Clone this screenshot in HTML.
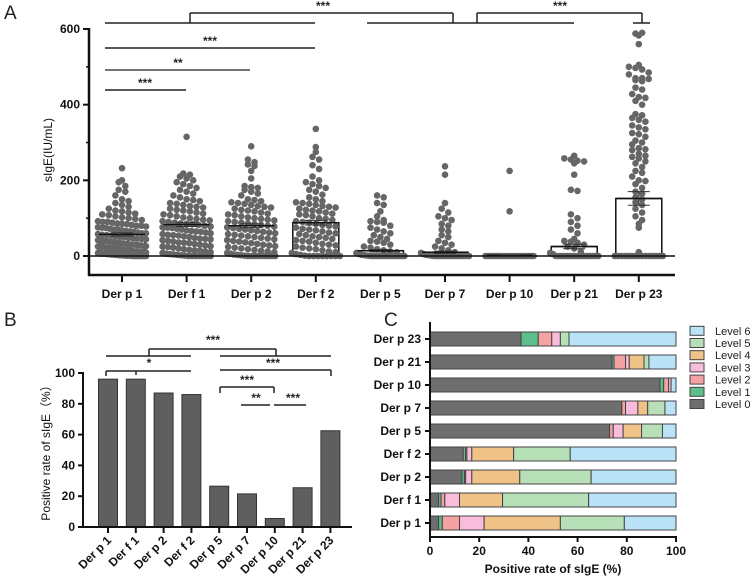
<!DOCTYPE html>
<html><head><meta charset="utf-8"><style>
html,body{margin:0;padding:0;background:#fff;}
svg{display:block;font-family:"Liberation Sans",Arial,sans-serif;}
.b{font-weight:bold;font-size:12px;fill:#111;}
</style></head><body>
<svg id="chart" width="753" height="579" viewBox="0 0 753 579">
<g id="gA"></g>
<g id="gB"></g>
<g id="gC"></g>
</svg>
<script>
const categories = ["Der p 1","Der f 1","Der p 2","Der f 2","Der p 5","Der p 7","Der p 10","Der p 21","Der p 23"];
const meansA = [57,83,80,88,14,10,2,25,152];
const semA = [4,5,5,6,3,3,1,6,18];
const dotsP1 = [232,200,195,185,175,170,160,150,145,140,135,130,125,120,118,115,112,110,108,105,102,100,98,95,92,90,90,88,86,85,84,82,80,80,78,76,75,74,72,70,70,68,66,65,64,62,60,60,58,56,55,54,52,50,50,48,47,46,45,44,42,41,40,40,38,37,36,35,34,33,32,31,30,30,29,28,27,26,25,25,24,23,22,21,20,20,19,18,17,16,15,15,14,13,12,12,11,10,10,9,8,8,7,6,6,5,5,4,4,3,3,2,2,2,1,1,1,1,0,0,0,0,0,0,0,0];
const dotsF1 = [315,218,215,210,205,200,195,190,185,180,175,170,165,160,155,150,148,145,140,138,135,132,130,128,125,122,120,118,115,112,110,108,105,102,100,98,96,94,92,90,88,86,85,84,82,80,78,76,75,74,72,70,68,66,65,64,62,60,58,56,55,54,52,50,48,46,45,44,42,40,38,36,35,34,32,30,28,26,25,24,22,20,18,16,15,14,12,10,8,6,5,4,3,2,1,0,0,0,0,0,0,0];
const dotsP2 = [290,255,248,242,238,225,205,185,182,180,175,170,165,160,150,148,145,142,140,138,135,132,130,128,125,122,120,118,115,112,110,108,105,102,100,98,96,94,92,90,88,86,84,82,80,78,76,74,72,70,68,66,64,62,60,58,56,54,52,50,48,46,44,42,40,38,36,34,32,30,28,26,24,22,20,18,16,14,12,10,8,6,4,3,2,1,0,0,0,0,0,0,0,0,0];
const dotsF2 = [336,288,275,262,255,240,230,210,200,195,190,185,180,175,170,162,155,150,145,142,140,138,135,132,130,128,125,122,120,118,115,112,110,108,105,100,98,95,92,90,88,85,82,80,78,75,72,70,68,65,62,60,58,55,52,50,48,45,42,40,38,35,32,30,28,25,22,20,18,15,12,10,8,5,3,1,0,0,0,0,0,0,0,0];
const dotsP5 = [160,155,140,135,118,105,95,92,90,88,80,75,70,65,60,55,50,45,40,38,35,30,25,22,18,15,12,10,8,5,3,2,1,0,0,0,0,0,0,0,0,0,0,0,0,0];
const dotsP7 = [237,215,140,125,115,105,100,95,85,80,70,65,55,50,40,35,30,25,20,15,10,8,5,3,2,1,0,0,0,0,0,0,0,0,0,0,0,0,0,0];
const dotsP10 = [225,118,0,0,0,0,0,0,0,0,0,0,0,0,0,0,0,0,0,0];
const dotsP21 = [265,258,255,252,250,245,215,175,172,110,100,90,80,70,60,45,40,38,35,30,25,20,12,8,5,0,0,0,0,0,0,0,0,0,0,0,0,0,0,0,0];
const dotsP23 = [588,590,583,560,505,500,497,493,485,480,470,470,468,465,462,445,440,428,420,418,410,400,375,372,365,360,355,345,340,335,325,322,315,305,300,295,285,282,280,270,265,262,258,250,245,235,225,220,210,200,198,190,180,170,165,155,150,142,135,125,115,105,95,85,75,10,0,0,0,0,0,0,0,0,0,0,0,0,0,0,0];
const dotsA = [dotsP1,dotsF1,dotsP2,dotsF2,dotsP5,dotsP7,dotsP10,dotsP21,dotsP23];
const ticksA = [0,200,400,600];
const ratesB = [96,96,87,86,26.5,21.5,5.5,25.5,62.5];
const ticksB = [0,20,40,60,80,100];
const levels = ["Level 0","Level 1","Level 2","Level 3","Level 4","Level 5","Level 6"];
const levelColors = ["#6e6e6e","#5fbf8a","#f4a2a2","#f8bddb","#efc287","#b7e0b9","#bae3f7"];
// rows bottom -> top: Der p 1 ... Der p 23 ; each: L0..L6
const lvP1 = [3.5,1.5,7,10,31,26,21];
const lvF1 = [3.5,1,1.5,6,17.5,35,35.5];
const lvP2 = [13,1,0.5,2.5,19.5,29,34.5];
const lvF2 = [13.5,1,0.5,2,17,23,43];
const lvP5 = [73,0,1.5,4,7.5,8.5,5.5];
const lvP7 = [78,0,1.5,5,4,7,4.5];
const lvP10 = [93.5,1.5,2,1,0,0,2];
const lvP21 = [74,0.8,4.7,1.5,6,2,11];
const lvP23 = [37,7,5.5,3.5,0,3.5,43.5];
const levelRows = [lvP1,lvF1,lvP2,lvF2,lvP5,lvP7,lvP10,lvP21,lvP23];
const ticksC = [0,20,40,60,80,100];

const NS="http://www.w3.org/2000/svg";
function mk(parent,tag,attrs,text){const e=document.createElementNS(NS,tag);for(const k in attrs)e.setAttribute(k,attrs[k]);if(text!==undefined)e.textContent=text;parent.appendChild(e);return e;}

// ---------- Panel A ----------
const gA=document.getElementById('gA');
const xA=i=>122+i*64.6, yA=v=>256-v*227/600;
let t=mk(gA,'text',{x:4,y:19,'font-size':19,fill:'#222'},'A');


// bars
categories.forEach((c,i)=>{
  const r=mk(gA,'rect',{x:xA(i)-23,y:yA(meansA[i]),width:46,height:yA(0)-yA(meansA[i]),fill:'#fff',stroke:'#111','stroke-width':1.5});
  
  
});
// dots
dotsA.forEach((arr,i)=>{
  const bins={};
  arr.forEach(v=>{const b=Math.round(v/17);(bins[b]=bins[b]||[]).push(v);});
  Object.values(bins).forEach(list=>{
    const n=list.length;const sp=n>8?48/(n-1):6.6;
    list.forEach((v,k)=>{
      const c=mk(gA,'circle',{cx:xA(i)+(k-(n-1)/2)*sp,cy:yA(v),r:3.3,fill:'#666'});
      
      
    });
  });
});
// mean lines & error
categories.forEach((c,i)=>{
  mk(gA,'line',{x1:xA(i)-23,x2:xA(i)+23,y1:yA(meansA[i]),y2:yA(meansA[i]),stroke:'#111','stroke-width':1.5});
  mk(gA,'line',{x1:xA(i),x2:xA(i),y1:yA(meansA[i]+semA[i]),y2:yA(meansA[i]-semA[i]),stroke:'#333','stroke-width':1});
  mk(gA,'line',{x1:xA(i)-11,x2:xA(i)+11,y1:yA(meansA[i]+semA[i]),y2:yA(meansA[i]+semA[i]),stroke:'#333','stroke-width':1});
  mk(gA,'line',{x1:xA(i)-11,x2:xA(i)+11,y1:yA(meansA[i]-semA[i]),y2:yA(meansA[i]-semA[i]),stroke:'#333','stroke-width':1});
});
mk(gA,'line',{x1:89,x2:675,y1:yA(0),y2:yA(0),stroke:'#111','stroke-width':1.5});
// axes
mk(gA,'line',{x1:89,x2:89,y1:28,y2:276,stroke:'#111','stroke-width':2.5});
mk(gA,'line',{x1:88,x2:675,y1:275,y2:275,stroke:'#111','stroke-width':2.5});
[100,300,500].forEach(v=>mk(gA,'line',{x1:86,x2:89,y1:yA(v),y2:yA(v),stroke:'#111','stroke-width':1.5}));
ticksA.forEach(v=>{
  mk(gA,'line',{x1:83,x2:89,y1:yA(v),y2:yA(v),stroke:'#111','stroke-width':2});
  const l=mk(gA,'text',{x:80,y:yA(v)+4,'text-anchor':'end',class:'b'},String(v));
  
  
});
categories.forEach((c,i)=>{
  mk(gA,'line',{x1:xA(i),x2:xA(i),y1:275,y2:282,stroke:'#111','stroke-width':2});
  const l=mk(gA,'text',{x:xA(i),y:298,'text-anchor':'middle',class:'b'},c);
  
  
});
t=mk(gA,'text',{x:0,y:0,transform:'translate(52,150) rotate(-90)','text-anchor':'middle','font-size':12,fill:'#111'},'sIgE(IU/mL)');


// significance A
const ln=(g,x1,y1,x2,y2,w)=>mk(g,'line',{x1,y1,x2,y2,stroke:'#222','stroke-width':w||1.5});
const star=(g,x,y,s)=>mk(g,'text',{x,y,'text-anchor':'middle','font-size':12,'font-weight':'bold',fill:'#222'},s);
ln(gA,105,23,315,23);ln(gA,190,13,453,13);ln(gA,190,13,190,23);ln(gA,453,13,453,23);
ln(gA,367,23,574,23);ln(gA,477,13,642,13);ln(gA,477,13,477,23);ln(gA,642,13,642,23);ln(gA,633,23,650,23);
star(gA,323,10,'***');star(gA,560,10,'***');
ln(gA,105,48,315,48);star(gA,210,45,'***');
ln(gA,105,70,250,70,1.2);star(gA,178,67,'**');
ln(gA,105,90,186,90);star(gA,145,87,'***');

// ---------- Panel B ----------
const gB=document.getElementById('gB');
const xB=i=>108+i*27.8, yB=v=>527-v*1.54;
t=mk(gB,'text',{x:4,y:326,'font-size':19,fill:'#222'},'B');


ratesB.forEach((v,i)=>{
  const r=mk(gB,'rect',{x:xB(i)-9.5,y:yB(v),width:19,height:yB(0)-yB(v),fill:'#5f5f5f',stroke:'#333','stroke-width':1});
  
  
});
mk(gB,'line',{x1:83,x2:83,y1:372,y2:528,stroke:'#111','stroke-width':2});
mk(gB,'line',{x1:82,x2:352,y1:527,y2:527,stroke:'#111','stroke-width':2});
ticksB.forEach(v=>{
  mk(gB,'line',{x1:78,x2:83,y1:yB(v),y2:yB(v),stroke:'#111','stroke-width':2});
  const l=mk(gB,'text',{x:75,y:yB(v)+4,'text-anchor':'end',class:'b'},String(v));
  
  
});
categories.forEach((c,i)=>{
  mk(gB,'line',{x1:xB(i),x2:xB(i),y1:527,y2:533,stroke:'#111','stroke-width':2});
  const l=mk(gB,'text',{x:0,y:0,transform:'translate('+(xB(i)+4)+',541) rotate(-45)','text-anchor':'end',class:'b','font-size':11},c);
  
  
});
t=mk(gB,'text',{x:0,y:0,transform:'translate(50,450) rotate(-90)','text-anchor':'middle','font-size':12,fill:'#111'},'Positive rate of sIgE（%）');


ln(gB,149,349,276,349);ln(gB,149,349,149,356);ln(gB,276,349,276,356);star(gB,213,344,'***');
ln(gB,106,356,191,356);ln(gB,220,356,331,356);
star(gB,149,367,'*');ln(gB,106,371,191,371);ln(gB,106,371,106,376);ln(gB,136,371,136,375);
star(gB,273,367,'***');ln(gB,220,370,331,370);ln(gB,331,370,331,376);
star(gB,247,384,'***');ln(gB,220,387,274,387);ln(gB,220,387,220,393);ln(gB,274,387,274,393);
star(gB,256,402,'**');ln(gB,241,405,270,405);
star(gB,293,402,'***');ln(gB,274,405,306,405);

// ---------- Panel C ----------
const gC=document.getElementById('gC');
const xC=p=>430+p*2.46, yC=i=>523-i*23;
t=mk(gC,'text',{x:384,y:326,'font-size':19,fill:'#222'},'C');


levelRows.forEach((row,i)=>{
  let acc=0;
  row.forEach((v,k)=>{
    if(v>0){
      const r=mk(gC,'rect',{x:xC(acc),y:yC(i)-7,width:xC(acc+v)-xC(acc),height:14,fill:levelColors[k],stroke:'#444','stroke-width':1});
      
      
    }
    acc+=v;
  });
  mk(gC,'line',{x1:425,x2:430,y1:yC(i),y2:yC(i),stroke:'#111','stroke-width':2});
  const l=mk(gC,'text',{x:421,y:yC(i)+4,'text-anchor':'end',class:'b'},categories[i]);
  
  
});
mk(gC,'line',{x1:430,x2:430,y1:322,y2:538,stroke:'#111','stroke-width':2});
mk(gC,'line',{x1:429,x2:677,y1:537,y2:537,stroke:'#111','stroke-width':2});
ticksC.forEach(v=>{
  mk(gC,'line',{x1:xC(v),x2:xC(v),y1:537,y2:542,stroke:'#111','stroke-width':2});
  const l=mk(gC,'text',{x:xC(v),y:555,'text-anchor':'middle',class:'b'},String(v));
  
  
});
t=mk(gC,'text',{x:553,y:573,'text-anchor':'middle',class:'b','font-size':11},'Positive rate of sIgE (%)');


levels.forEach((lv,k)=>{
  const y=404-k*12.2;
  const r=mk(gC,'rect',{x:690,y:y-4.5,width:14,height:9,fill:levelColors[k],stroke:'#444','stroke-width':1});
  
  
  const l=mk(gC,'text',{x:715,y:y+4,'font-size':11,fill:'#222'},lv);
  
  
});
</script>
</body></html>
